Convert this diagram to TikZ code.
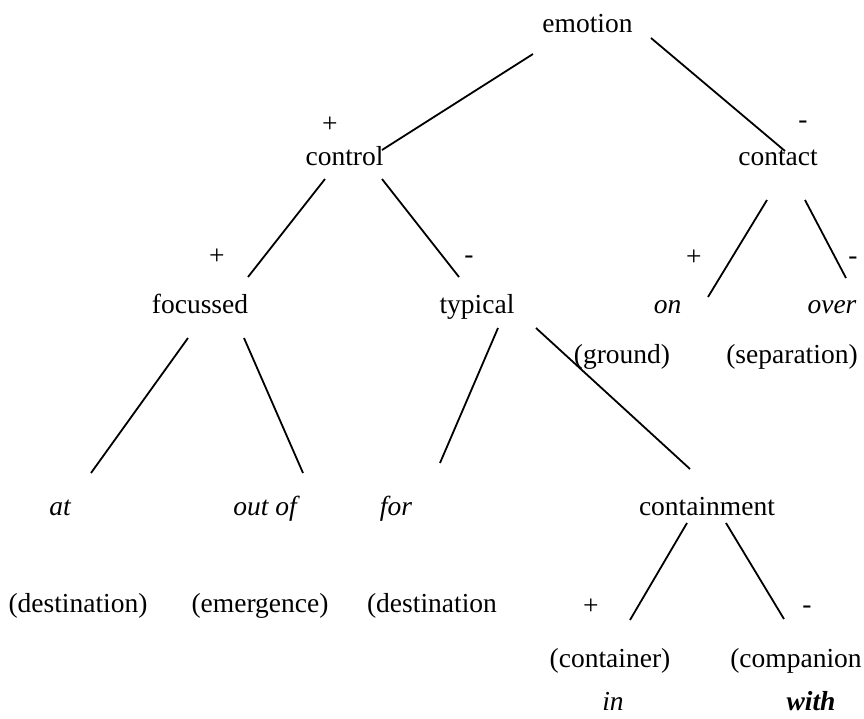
\documentclass[tikz,border=0pt]{standalone}
\usepackage{fontspec}
\setmainfont{Liberation Serif}

\begin{document}
\begin{tikzpicture}[x=0.5pt,y=-0.5pt,
		word/.style={anchor=base,inner sep=0pt,font=\fontsize{13.75}{16}\selectfont},
		prep/.style={word,font=\fontsize{13.75}{16}\selectfont\itshape},
		branch/.style={line width=0.9pt}]
		\useasboundingbox (0,0) rectangle (864,719);

		\node[word] 	(emotion)	at (587.5,32)	{emotion};

		\node[word] 	(pctrl)		at (330,132)	{+};
		\node[word] 	(control)	at (344.5,165)	{control};
		\node[word] 	(mcont)		at (803,128)	{-};
		\node[word] 	(contact)	at (778,165)	{contact};

		\node[word] 	(pfoc)		at (217,264)	{+};
		\node[word] 	(focussed)	at (200,313)	{focussed};
		\node[word] 	(mtyp)		at (469,263)	{-};
		\node[word] 	(typical)	at (477,313)	{typical};
		\node[word] 	(pon)		at (694,265)	{+};
		\node[prep] 	(on)		at (667.5,313)	{on};
		\node[word] 	(mover)		at (853,264)	{-};
		\node[prep] 	(over)		at (832,313)	{over};
		\node[word] 	(ground)	at (622,363)	{(ground)};
		\node[word] 	(separation)	at (792,363)	{(separation)};

		\node[prep] 	(at)		at (60,515)	{at};
		\node[prep] 	(outof)		at (265,515)	{out of};
		\node[prep] 	(for)		at (396,515)	{for};
		\node[word] 	(containment)	at (707,515)	{containment};
		\node[word] 	(dest1)		at (78,612)	{(destination)};
		\node[word] 	(emergence)	at (260,612)	{(emergence)};
		\node[word] 	(dest2)		at (432,612)	{(destination};

		\node[word] 	(pcontr)	at (591,614)	{+};
		\node[word] 	(mcomp)		at (807,613)	{-};
		\node[word] 	(container)	at (610,667)	{(container)};
		\node[word] 	(companion)	at (796,667)	{(companion};
		\node[prep] 	(in)		at (613,710)	{in};
		\node[prep] 	(with)		at (811,710)	{\bfseries with};

		\coordinate (emo-l) at (533,54);
		\coordinate (emo-r) at (651,38);
		\coordinate (ctrl-t) at (382,150);
		\coordinate (cont-t) at (785,151);
		\coordinate (ctrl-l) at (325,179);
		\coordinate (ctrl-r) at (382,179);
		\coordinate (foc-t) at (248,277);
		\coordinate (typ-t) at (459,277);
		\coordinate (cont-l) at (767,200);
		\coordinate (cont-r) at (805,200);
		\coordinate (on-t) at (708,297);
		\coordinate (over-t) at (846,278);
		\coordinate (foc-l) at (188,338);
		\coordinate (foc-r) at (244,338);
		\coordinate (typ-l) at (498,328);
		\coordinate (typ-r) at (536,328);
		\coordinate (at-t) at (91,473);
		\coordinate (outof-t) at (303,473);
		\coordinate (for-t) at (440,463);
		\coordinate (cmt-t) at (690,469);
		\coordinate (cmt-l) at (687,523);
		\coordinate (cmt-r) at (726,523);
		\coordinate (contr-t) at (630,620);
		\coordinate (comp-t) at (784,619);

		\draw[branch] (emo-l) -- (ctrl-t);
		\draw[branch] (emo-r) -- (cont-t);
		\draw[branch] (ctrl-l) -- (foc-t);
		\draw[branch] (ctrl-r) -- (typ-t);
		\draw[branch] (cont-l) -- (on-t);
		\draw[branch] (cont-r) -- (over-t);
		\draw[branch] (foc-l) -- (at-t);
		\draw[branch] (foc-r) -- (outof-t);
		\draw[branch] (typ-l) -- (for-t);
		\draw[branch] (typ-r) -- (cmt-t);
		\draw[branch] (cmt-l) -- (contr-t);
		\draw[branch] (cmt-r) -- (comp-t);
	\end{tikzpicture}
\end{document}
